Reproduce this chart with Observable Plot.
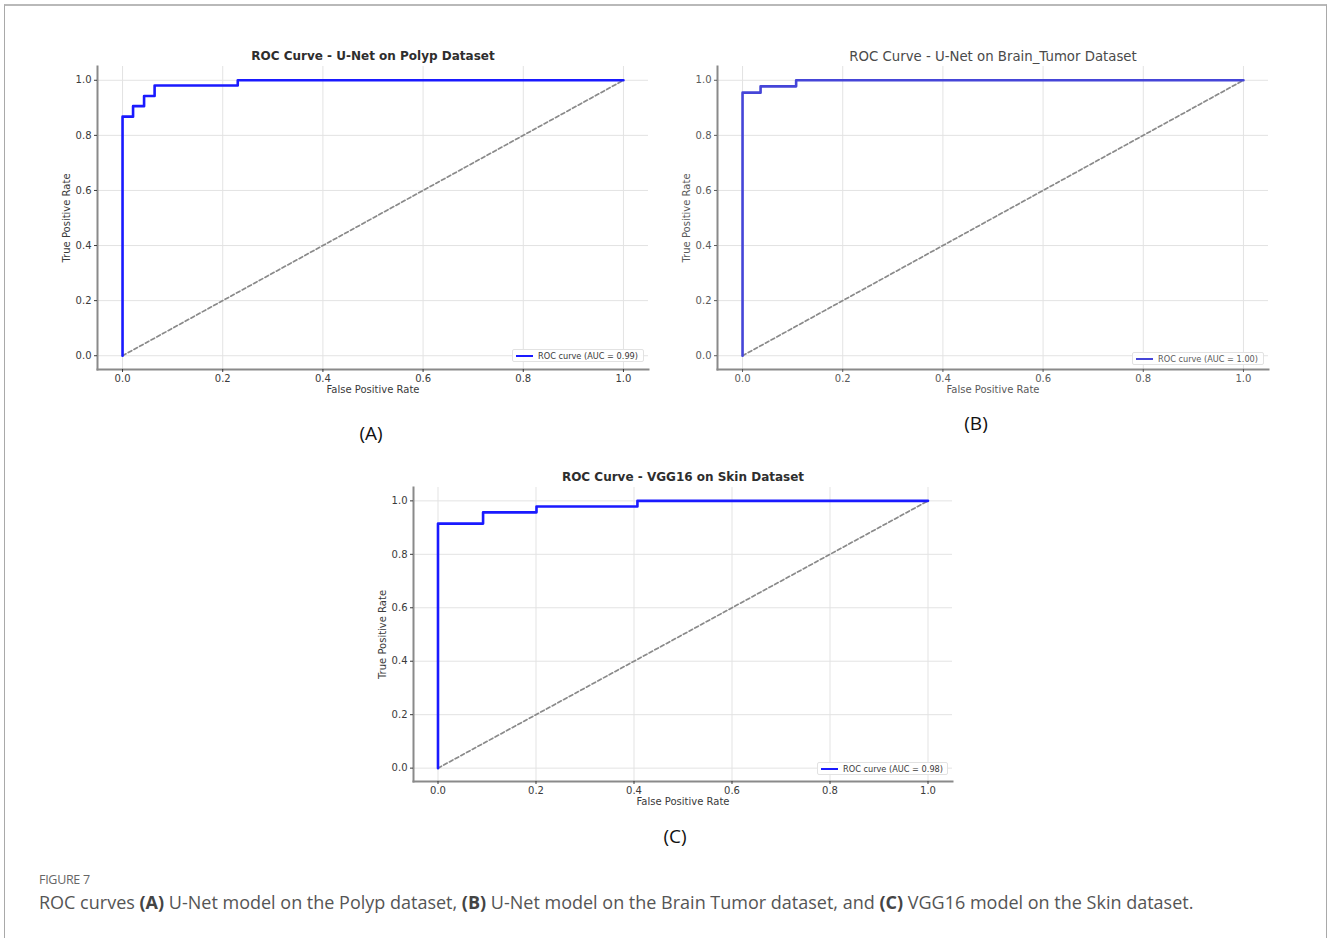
<!DOCTYPE html>
<html>
<head>
<meta charset="utf-8">
<script src="https://cdn.jsdelivr.net/npm/d3@7"></script>
<script src="https://cdn.jsdelivr.net/npm/@observablehq/plot@0.6"></script>
<style>
  html, body { margin: 0; padding: 0; background: #fff; }
  #fig { position: relative; width: 1330px; height: 938px; overflow: hidden; background: #fff; }
  #border { position: absolute; left: 4px; top: 4px; width: 1321px; height: 960px;
            border-top: 2px solid #b9b9b9; border-left: 1.5px solid #a9a9a9; border-right: 1.5px solid #a9a9a9; }
  .panel { position: absolute; }
  .panel svg { overflow: visible; }
  .legend { position: absolute; box-sizing: border-box; border: 1px solid #e2e2e2; background: rgba(255,255,255,0.9);
            border-radius: 2px; font-family: "DejaVu Sans", sans-serif; font-size: 8.2px; white-space: nowrap;
            display: flex; align-items: center; padding: 0 3px; }
  .legend .sw { display: inline-block; width: 17px; height: 0; margin-right: 5px; }
  .tag { position: absolute; font-family: "Open Sans", sans-serif; font-size: 19px; color: #111; transform: translate(-50%, -50%); }
  #figlabel { position: absolute; left: 39px; top: 871px; font-family: "Open Sans", sans-serif; font-size: 12.5px; color: #666; letter-spacing: -0.3px; }
  #caption { position: absolute; left: 39px; top: 890px; font-family: "Open Sans", sans-serif; font-size: 18px; color: #555; white-space: nowrap; }
  #caption b { color: #444; font-weight: 700; }
</style>
</head>
<body>
<div id="fig">
  <div id="border"></div>
</div>
<script>
// ---------- data ----------
const ticks = [0.0, 0.2, 0.4, 0.6, 0.8, 1.0];
const chanceX = [0, 1];
const chanceY = [0, 1];

const polypTitle = "ROC Curve - U-Net on Polyp Dataset";
const polypFpr = [0, 0, 0.021, 0.021, 0.043, 0.043, 0.064, 0.064, 0.230, 0.230, 1.0];
const polypTpr = [0, 0.868, 0.868, 0.906, 0.906, 0.943, 0.943, 0.981, 0.981, 1.0, 1.0];
const polypAuc = "0.99";

const brainTitle = "ROC Curve - U-Net on Brain_Tumor Dataset";
const brainFpr = [0, 0, 0.036, 0.036, 0.107, 0.107, 1.0];
const brainTpr = [0, 0.955, 0.955, 0.978, 0.978, 1.0, 1.0];
const brainAuc = "1.00";

const skinTitle = "ROC Curve - VGG16 on Skin Dataset";
const skinFpr = [0, 0, 0.092, 0.092, 0.201, 0.201, 0.407, 0.407, 1.0];
const skinTpr = [0, 0.915, 0.915, 0.957, 0.957, 0.979, 0.979, 1.0, 1.0];
const skinAuc = "0.98";

const xLabel = "False Positive Rate";
const yLabel = "True Positive Rate";
const figLabel = "FIGURE 7";

// ---------- drawing ----------
const fig = document.getElementById("fig");

function panel(cfg) {
  const mL = 60, mR = 12, mT = 30, mB = 34;
  const W = cfg.right - cfg.left + mL + mR;
  const H = cfg.bottom - cfg.top + mT + mB;
  const roc = cfg.fpr.map((f, i) => ({fpr: f, tpr: cfg.tpr[i]}));
  const diag = chanceX.map((v, i) => ({fpr: v, tpr: chanceY[i]}));
  const font = "'DejaVu Sans', sans-serif";
  const plot = Plot.plot({
    width: W, height: H,
    marginLeft: mL, marginRight: mR, marginTop: mT, marginBottom: mB,
    style: {fontFamily: font, background: "transparent", color: cfg.ink},
    x: {domain: [-0.05, 1.05]},
    y: {domain: [-0.05, 1.05]},
    marks: [
      Plot.gridX(ticks, {stroke: "#e3e3e3", strokeOpacity: 1, strokeWidth: 1}),
      Plot.gridY(ticks, {stroke: "#e3e3e3", strokeOpacity: 1, strokeWidth: 1}),
      Plot.frame({anchor: "left", stroke: "#8a8a8a", strokeWidth: 2}),
      Plot.frame({anchor: "bottom", stroke: "#8a8a8a", strokeWidth: 2}),
      Plot.axisX({ticks, tickFormat: ".1f", tickSize: 3, tickPadding: 2, fontSize: 10, color: cfg.ink,
                  label: xLabel, labelAnchor: "center", labelArrow: false, labelOffset: 23}),
      Plot.axisY({ticks, tickFormat: ".1f", tickSize: 3, tickPadding: 3, fontSize: 10, color: cfg.ink,
                  label: yLabel, labelAnchor: "center", labelArrow: false, labelOffset: 35}),
      Plot.line(diag, {x: "fpr", y: "tpr", stroke: "#8a8a8a", strokeWidth: 1.7, strokeDasharray: "4,2.5"}),
      Plot.line(roc, {x: "fpr", y: "tpr", stroke: cfg.color, strokeWidth: 2.6, curve: "linear"}),
      Plot.text([cfg.title], {frameAnchor: "top", dy: -10, fontSize: cfg.titleSize, fill: cfg.titleInk,
                              fontWeight: cfg.weight, lineAnchor: "middle"})
    ]
  });
  const wrap = document.createElement("div");
  wrap.className = "panel";
  wrap.style.left = (cfg.left - mL) + "px";
  wrap.style.top = (cfg.top - mT) + "px";
  wrap.appendChild(plot);
  fig.appendChild(wrap);

  // legend (lower right, inside axes)
  const xs = plot.scale("x"), ys = plot.scale("y");
  const lg = document.createElement("div");
  lg.className = "legend";
  const lw = cfg.legendW, lh = 13;
  const fr = cfg.left + (xs.apply(1.05) - mL);
  const fb = cfg.top + (ys.apply(-0.05) - mT);
  lg.style.left = (fr - 4 - lw) + "px";
  lg.style.top = (fb - cfg.legendGap - lh) + "px";
  lg.style.width = lw + "px";
  lg.style.height = lh + "px";
  lg.style.color = cfg.ink;
  lg.innerHTML = `<span class="sw" style="border-top:2.2px solid ${cfg.color}"></span><span>ROC curve (AUC = ${cfg.auc})</span>`;
  fig.appendChild(lg);

  const tag = document.createElement("div");
  tag.className = "tag";
  tag.textContent = cfg.tag;
  tag.style.left = cfg.tagX + "px";
  tag.style.top = cfg.tagY + "px";
  fig.appendChild(tag);
}

panel({left: 97, right: 648, top: 66, bottom: 369, fpr: polypFpr, tpr: polypTpr, auc: polypAuc,
       title: polypTitle, color: "#1a1aff", ink: "#3a3a3a", titleInk: "#2e2e2e", weight: "bold", titleSize: 12,
       legendW: 132, legendGap: 7, tag: "(A)", tagX: 371, tagY: 433});
panel({left: 717, right: 1268, top: 66, bottom: 369, fpr: brainFpr, tpr: brainTpr, auc: brainAuc,
       title: brainTitle, color: "#4545d8", ink: "#5a5a5a", titleInk: "#4a4a4a", weight: "normal", titleSize: 13.3,
       legendW: 132, legendGap: 4, tag: "(B)", tagX: 976, tagY: 423});
panel({left: 413, right: 952, top: 487, bottom: 781, fpr: skinFpr, tpr: skinTpr, auc: skinAuc,
       title: skinTitle, color: "#1a1aff", ink: "#3a3a3a", titleInk: "#2e2e2e", weight: "bold", titleSize: 12,
       legendW: 131, legendGap: 6, tag: "(C)", tagX: 675, tagY: 836});

const fl = document.createElement("div");
fl.id = "figlabel"; fl.textContent = figLabel; fig.appendChild(fl);
const cap = document.createElement("div");
cap.id = "caption";
cap.innerHTML = "ROC curves <b>(A)</b> U-Net model on the Polyp dataset, <b>(B)</b> U-Net model on the Brain Tumor dataset, and <b>(C)</b> VGG16 model on the Skin dataset.";
fig.appendChild(cap);
</script>
</body>
</html>
